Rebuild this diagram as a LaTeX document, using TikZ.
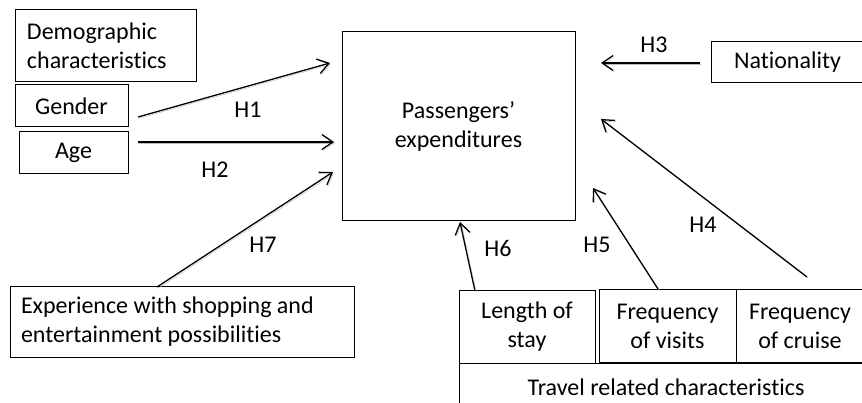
\documentclass[tikz,border=0pt]{standalone}
\usepackage{fontspec}
\setmainfont{Carlito}[Ligatures=NoCommon]
\usetikzlibrary{arrows.meta}
\begin{document}
\begin{tikzpicture}[x=1pt,y=-1pt,
  font=\fontsize{24}{29}\selectfont,
  box/.style={draw, line width=1pt, inner sep=0pt, align=center},
  arr/.style={line width=1.3pt, -{Straight Barb[length=11pt,width=15pt,line width=1.3pt]},
    preaction={draw=gray!55, transform canvas={shift={(1.3pt,-1.3pt)}}}},
  lab/.style={inner sep=0pt}]
\useasboundingbox (0,0) rectangle (862,403);
% boxes
\node[box, minimum width=181pt, minimum height=72pt, text width=157pt, align=flush left] (demo) at (105.5,46) {Demographic\\characteristics};
\node[box, minimum width=113pt, minimum height=42pt] (gender) at (71.5,106) {Gender};
\node[box, minimum width=109pt, minimum height=42pt] (age) at (73.5,153) {Age};
\node[box, minimum width=233pt, minimum height=189pt] (main) at (458.5,126.5) {Passengers'\\expenditures};
\node[box, minimum width=153pt, minimum height=41pt] (nat) at (787.5,62.5) {Nationality};
\node[box, minimum width=344pt, minimum height=70pt, text width=322pt, align=flush left] (exp) at (182,322) {Experience with shopping and\\entertainment possibilities};
\node[box, minimum width=136pt, minimum height=72pt] (los) at (527,327) {Length of\\stay};
\node[box, minimum width=137pt, minimum height=72pt] (fv) at (667.5,326) {Frequency\\of visits};
\node[box, minimum width=128pt, minimum height=72pt] (fc) at (800,326) {Frequency\\of cruise};
\draw[line width=1pt] (459,404) -- (459,363) -- (864,363);
\node[lab] (trav) at (666,387) {Travel related characteristics};
% connector end points
\coordinate (h1s) at (138,117); \coordinate (h1e) at (330,63);
\coordinate (h2s) at (138,142); \coordinate (h2e) at (334,142);
\coordinate (h3s) at (700,63);  \coordinate (h3e) at (601,63);
\coordinate (h4s) at (807,277); \coordinate (h4e) at (601,119);
\coordinate (h5s) at (658,289); \coordinate (h5e) at (593,188);
\coordinate (h6s) at (475,291); \coordinate (h6e) at (460,222);
\coordinate (h7s) at (157,287); \coordinate (h7e) at (333,172);
\draw[arr] (h1s) -- (h1e);
\draw[arr] (h2s) -- (h2e);
\draw[arr] (h3s) -- (h3e);
\draw[arr] (h4s) -- (h4e);
\draw[arr] (h5s) -- (h5e);
\draw[arr] (h6s) -- (h6e);
\draw[arr] (h7s) -- (h7e);
% labels
\node[lab] (l1) at (248,110) {H1};
\node[lab] (l2) at (215,170) {H2};
\node[lab] (l3) at (654,45) {H3};
\node[lab] (l4) at (703,225) {H4};
\node[lab] (l5) at (597,245) {H5};
\node[lab] (l6) at (498,248) {H6};
\node[lab] (l7) at (263,245) {H7};
\end{tikzpicture}
\end{document}
